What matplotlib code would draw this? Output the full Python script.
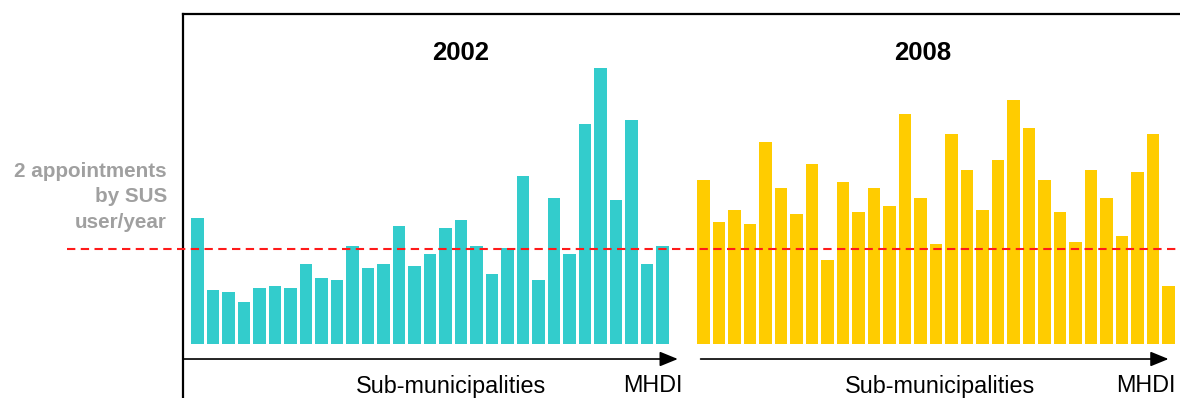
import numpy as np
import matplotlib
matplotlib.use("Agg")
import matplotlib.pyplot as plt

plt.rcParams['font.family'] = ['Liberation Sans', 'DejaVu Sans']

# appointments per SUS user/year, sub-municipalities ordered by MHDI
years = ["2002", "2008"]
appointments_2002 = [2.65, 1.14, 1.09, 0.88, 1.18, 1.22, 1.18, 1.68, 1.39, 1.35,
                     2.06, 1.60, 1.68, 2.48, 1.64, 1.89, 2.44, 2.61, 2.06, 1.47,
                     2.02, 3.54, 1.35, 3.07, 1.89, 4.63, 5.81, 3.03, 4.72, 1.68,
                     2.06]
appointments_2008 = [3.45, 2.57, 2.82, 2.53, 4.25, 3.28, 2.74, 3.79, 1.77, 3.41,
                     2.78, 3.28, 2.91, 4.84, 3.07, 2.11, 4.42, 3.66, 2.82, 3.87,
                     5.14, 4.55, 3.45, 2.78, 2.15, 3.66, 3.07, 2.27, 3.62, 4.42,
                     1.22]
threshold = 2.0
threshold_label = "2 appointments\nby SUS\nuser/year"
axis_label = "Sub-municipalities"
order_label = "MHDI"

TEAL = "#33cccc"
YELLOW = "#ffcc00"
W, H = 1180, 398

fig = plt.figure(figsize=(W / 100, H / 100), dpi=100)
ax = fig.add_axes([183 / W, 0, 1 - 183 / W, 1 - 14 / H])

gap = 32.65
x02 = np.arange(len(appointments_2002))
x08 = gap + np.arange(len(appointments_2008))
ax.bar(x02, appointments_2002, width=0.82, color=TEAL)
ax.bar(x08, appointments_2008, width=0.82, color=YELLOW)

ax.set_xlim(-0.935, 63.39)
ax.set_ylim(-54 / 47.5, 330 / 47.5)

# reference line, running out past the left spine to the label
ax.plot([-8.42, 63.39], [threshold, threshold], color="#ff1a1a", lw=1.5,
        ls=(0, (4, 2.6)), clip_on=False, zorder=3)

for s in ["right", "bottom"]:
    ax.spines[s].set_visible(False)
for s in ["left", "top"]:
    ax.spines[s].set_linewidth(1.6)
    ax.spines[s].set_color("black")
ax.set_xticks([])
ax.set_yticks([])

# direction arrows under each group
ay = -0.316
arrow = dict(arrowstyle="-|>,head_length=1.1,head_width=0.45", color="black",
             lw=1.2, shrinkA=0, shrinkB=0)
ax.annotate("", xy=(30.99, ay), xytext=(-0.935, ay), arrowprops=arrow,
            annotation_clip=False)
ax.annotate("", xy=(62.65, ay), xytext=(32.46, ay), arrowprops=arrow,
            annotation_clip=False)

# group titles
for year, xc in zip(years, [17.0, 46.8]):
    ax.text(xc, 6.13, year, ha="center", va="center", fontsize=18.5,
            fontweight="bold")

for xc_sub, xc_mhdi in [(451, 653), (940, 1146)]:
    fig.text(xc_sub / W, 1 - 386 / H, axis_label, ha="center", va="center",
             fontsize=16.8)
    fig.text(xc_mhdi / W, 1 - 386 / H, order_label, ha="center", va="center",
             fontsize=16.8)

fig.text(167 / W, 1 - 197 / H, threshold_label, ha="right", va="center",
         fontsize=14.9, fontweight="bold", color="#a0a0a0", linespacing=1.45)

fig.savefig("out.png", dpi=100)
